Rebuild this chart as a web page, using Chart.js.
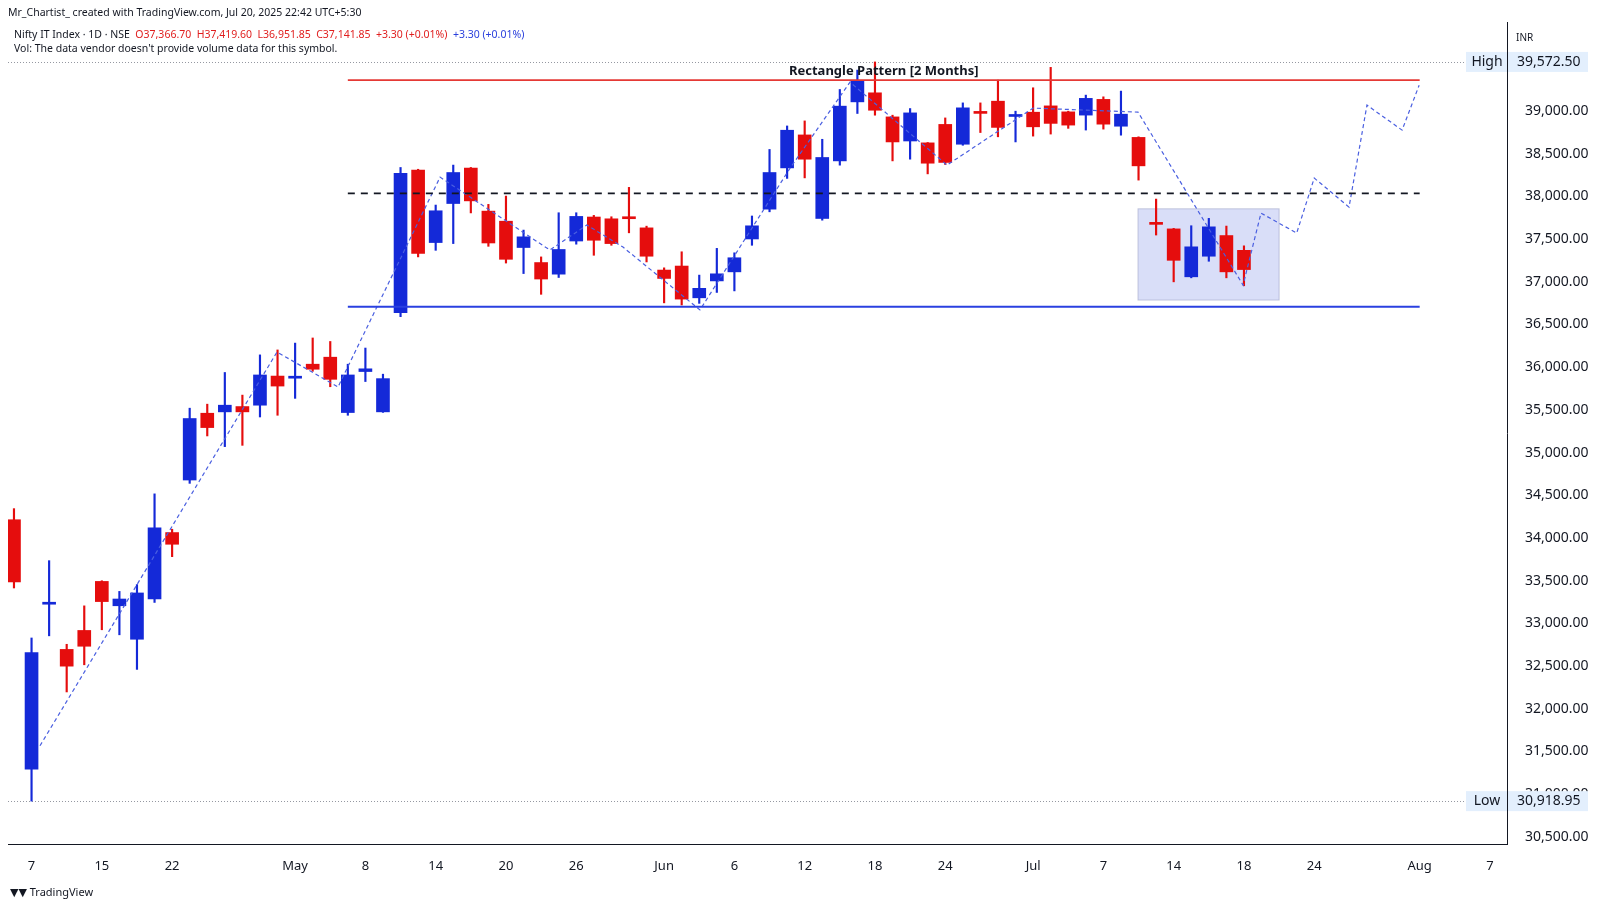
<!DOCTYPE html>
<html><head><meta charset="utf-8">
<script src="https://cdn.jsdelivr.net/npm/chart.js@4"></script>
<style>
html,body{margin:0;padding:0;background:#fff;font-family:"Noto Sans","DejaVu Sans",sans-serif;}
#wrap{position:absolute;left:0;top:0;width:1600px;height:906px;}
.t{position:absolute;font-size:10.5px;color:#131722;white-space:pre;}
.r{color:#e01e1e}.b{color:#2a3fdc}
</style></head><body>
<div id="wrap"><canvas id="c" width="1600" height="906"></canvas></div>
<div class="t" style="left:8px;top:5px;font-size:10.5px">Mr_Chartist_ created with TradingView.com, Jul 20, 2025 22:42 UTC+5:30</div>
<div class="t" style="left:14px;top:27px">Nifty IT Index · 1D · NSE  <span class="r">O37,366.70  H37,419.60  L36,951.85  C37,141.85  +3.30 (+0.01%)</span>  <span class="b">+3.30 (+0.01%)</span></div>
<div class="t" style="left:14px;top:41px">Vol: The data vendor doesn't provide volume data for this symbol.</div>
<div class="t" style="left:1516px;top:30px;font-size:10px">INR</div>
<div class="t" style="left:10px;top:884px;font-size:11px;font-weight:bold">▼▼ <span style="font-weight:normal">TradingView</span></div>
<script>
// candle data (index = trading day)
const opens = [34213,31294,33224,32695,32917,33491,33206,32814,33287,34063,34678,35460,35476,35538,35554,35895,35870,36034,36116,35468,35948,35476,
36637,38306,37458,37915,38330,37826,37708,37400,37224,37088,37476,37757,37736,37748,37630,37136,37183,36811,37009,37115,37500,37849,
38332,38718,37740,38414,39105,39211,38929,38647,38625,38841,38609,38981,39113,38934,38984,39058,38988,38950,39134,38820,38689,37681,37618,37057,37298,37540,37366.70];
const highs = [34343,32829,33734,32755,33205,33499,33374,33454,34516,34102,35519,35566,35937,35672,36143,36201,36281,36341,36300,36034,36223,35917,
38337,38316,37897,38365,38337,37905,38002,37604,37290,37807,37807,37776,37760,38104,37650,37162,37350,37077,37390,37338,37769,38548,
38823,38882,38667,39250,39477,39572.5,38949,39027,38629,38917,39093,39093,39360,38996,39270,39509,38996,39184,39164,39231,38696,37967,37624,37655,37741,37651,37419.60];
const lows = [33414,30918.95,32854,32197,32515,32925,32866,32461,33245,33781,34639,35194,35069,35084,35416,35436,35634,35951,35770,35436,35831,35470,
36590,37290,37367,37446,37805,37414,37218,37095,36852,37049,37439,37309,37426,37572,37231,36752,36727,36746,36874,36892,37426,37818,
38209,38215,37720,38364,38969,38949,38414,38434,38262,38372,38597,38746,38696,38636,38704,38728,38795,38775,38786,38715,38189,37546,36998,37045,37239,37045,36951.85];
const closes = [33485,32657,33243,32499,32732,33255,33285,33356,34118,33926,35398,35292,35554,35476,35908,35778,35882,35975,35857,35908,35980,35865,
38267,37330,37830,38278,37946,37453,37262,37525,37031,37377,37764,37485,37446,37737,37298,37038,36796,36922,37092,37280,37654,38278,
38773,38434,38454,39055,39347,39007,38636,38976,38387,38396,39035,38970,38806,38944,38813,38853,38833,39146,38844,38961,38356,37671,37250,37408,37642,37115,37141.85];
// x-axis tick labels at trading-day index
const tickIdx = [1,5,9,16,20,24,28,32,37,41,45,49,53,58,62,66,70,74,80,84];
const tickText = ['7','15','22','May','8','14','20','26','Jun','6','12','18','24','Jul','7','14','18','24','Aug','7'];
// y-axis tick values
const yTicks = [30500,31000,31500,32000,32500,33000,33500,34000,34500,35000,35500,36000,36500,37000,37500,38000,38500,39000];
// projection path (index, value)
const pathIdx = [1.48,14.97,18.44,24.25,30.5,32.6,34.66,39.04,44.17,47.58,53.1,58.0,63.97,69.95,70.97,73.0,74.0,75.98,77.0,79.0,79.97];
const pathVal = [31567,36177,35767,38224,37370,37663,37405,36669,38330,39336,38365,39032,38985,36960,37803,37569,38213,37873,39067,38774,39300];
// pattern levels
const resistance = 39359, midLevel = 38034, support = 36707;
const levelStart = 19, levelEnd = 80;
const boxX = [63.97, 72.0], boxY = [36785, 37853];
const highVal = 39572.5, lowVal = 30918.95;

const RED='#e50d0d', BLUE='#1429d8';
const up = opens.map((o,i)=>closes[i]>=o);
const cols = up.map(u=>u?BLUE:RED);
const bodies = opens.map((o,i)=>({x:i,y:[o,closes[i]]}));
const wicks = opens.map((o,i)=>({x:i,y:[lows[i],highs[i]]}));
const fmt = v=>v.toLocaleString('en-US',{minimumFractionDigits:2,maximumFractionDigits:2});

const overlay = {
  id:'overlay',
  beforeDatasetsDraw(ch){
    const {ctx,scales:{x,y}}=ch;
    ctx.save();
    const x0=x.getPixelForValue(boxX[0]),x1=x.getPixelForValue(boxX[1]);
    const y0=y.getPixelForValue(boxY[1]),y1=y.getPixelForValue(boxY[0]);
    ctx.fillStyle='rgba(120,135,230,0.28)';ctx.fillRect(x0,y0,x1-x0,y1-y0);
    ctx.strokeStyle='rgba(160,165,200,0.6)';ctx.lineWidth=1;ctx.strokeRect(x0,y0,x1-x0,y1-y0);
    ctx.setLineDash([1,2]);ctx.strokeStyle='#9598a1';
    [highVal,lowVal].forEach(v=>{const py=Math.round(y.getPixelForValue(v))+0.5;ctx.beginPath();ctx.moveTo(ch.chartArea.left,py);ctx.lineTo(ch.chartArea.right,py);ctx.stroke();});
    ctx.restore();
  },
  afterDraw(ch){
    const {ctx,scales:{x,y}}=ch;
    ctx.save();
    ctx.font='bold 13px "Noto Sans", sans-serif';ctx.fillStyle='#131722';ctx.textAlign='center';ctx.textBaseline='bottom';
    ctx.fillText('Rectangle Pattern [2 Months]', x.getPixelForValue(49.5), y.getPixelForValue(resistance)-2);
    const ca=ch.chartArea;
    [[highVal,'High'],[lowVal,'Low']].forEach(([v,lab])=>{
      const py=y.getPixelForValue(v);
      ctx.fillStyle='#e3effd';ctx.fillRect(ca.right-41,py-10,41,20);ctx.fillRect(ca.right+1,py-10,80,20);
      ctx.fillStyle='#131722';ctx.font='14px "Noto Sans", sans-serif';ctx.textBaseline='middle';
      ctx.textAlign='center';ctx.fillText(lab,ca.right-20,py);
      ctx.textAlign='left';ctx.fillText(fmt(v),ca.right+10,py);
    });
    ctx.restore();
  }
};

const lvl = (v,c,dash,w)=>({type:'line',data:[{x:levelStart,y:v},{x:levelEnd,y:v}],borderColor:c,borderWidth:w,borderDash:dash,pointRadius:0,order:0});

new Chart(document.getElementById('c'),{
  type:'bar',
  data:{datasets:[
    {data:wicks,backgroundColor:cols,barThickness:1.5,grouped:false,order:3},
    {data:bodies,backgroundColor:cols,barThickness:13,grouped:false,minBarLength:2,order:2},
    lvl(resistance,'#e53935',[],1.6),
    lvl(midLevel,'#131722',[7,6],1.6),
    lvl(support,'#2a40e0',[],2),
    {type:'line',data:pathIdx.map((v,i)=>({x:v,y:pathVal[i]})),borderColor:'#4a5fe0',borderWidth:1.2,borderDash:[4,3],pointRadius:0,order:1}
  ]},
  options:{
    responsive:false,animation:false,
    layout:{padding:{left:8,top:22,bottom:20,right:0}},
    plugins:{legend:{display:false},tooltip:{enabled:false}},
    scales:{
      x:{type:'linear',offset:false,min:-0.34,max:84.97,grid:{display:false,offset:false},border:{color:'#131722'},
        afterBuildTicks(s){s.ticks=tickIdx.map(v=>({value:v}));},
        ticks:{callback:(v)=>tickText[tickIdx.indexOf(v)]??'',autoSkip:false,maxRotation:0,color:'#131722',font:{size:13,family:'"Noto Sans", sans-serif'},padding:6},
        afterFit(s){s.height=42;}},
      y:{position:'right',min:30417,max:40040,grid:{display:false},border:{color:'#131722'},
        afterBuildTicks(s){s.ticks=yTicks.map(v=>({value:v}));},
        ticks:{autoSkip:false,color:'#131722',font:{size:14,family:'"Noto Sans", sans-serif'},padding:10,
          callback:v=>fmt(v)},
        afterFit(s){s.width=93;}}
    }
  },
  plugins:[overlay]
});
</script></body></html>
